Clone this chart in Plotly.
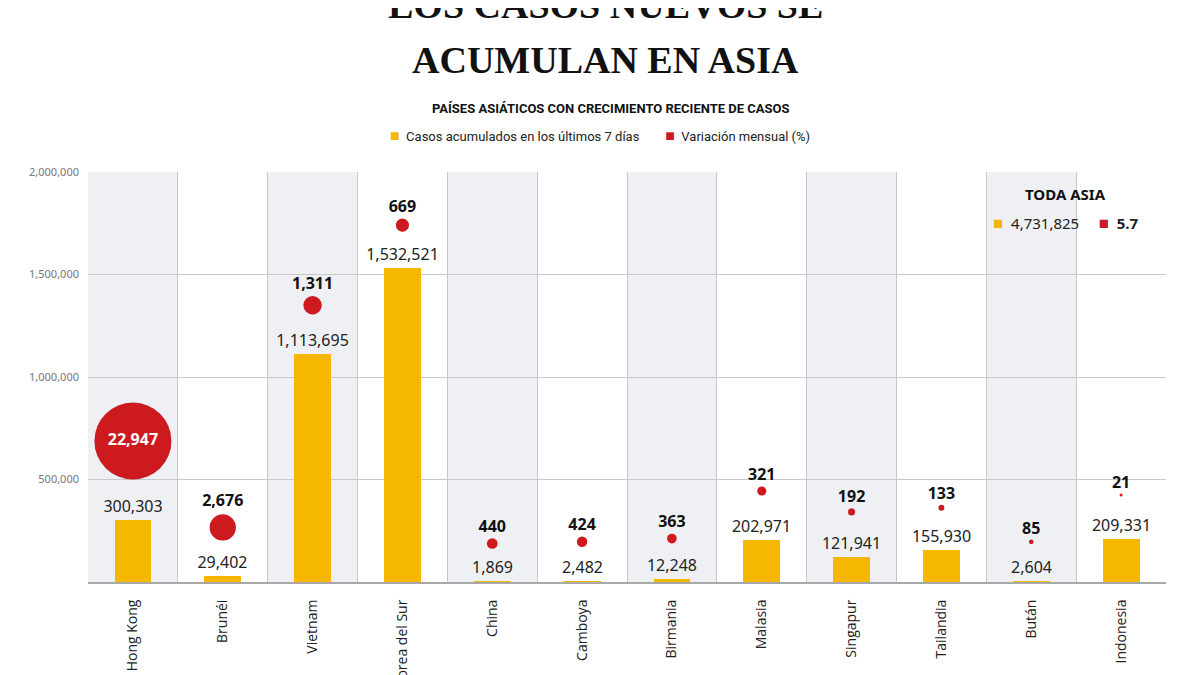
import plotly.graph_objects as go

# data
countries = ['Hong Kong', 'Brunéi', 'Vietnam', 'Corea del Sur', 'China', 'Camboya',
             'Birmania', 'Malasia', 'Singapur', 'Tailandia', 'Bután', 'Indonesia']
cases_7d = [300303, 29402, 1113695, 1532521, 1869, 2482, 12248, 202971, 121941,
            155930, 2604, 209331]
monthly_var = [22947, 2676, 1311, 669, 440, 424, 363, 321, 192, 133, 85, 21]
# vertical placement of the red bubbles (read on the y axis)
bubble_level = [688000, 266000, 1350000, 1741000, 188000, 196000, 212000, 444000,
                342000, 362000, 196000, 424000]
y_ticks = [500000, 1000000, 1500000, 2000000]
total_cases = 4731825
total_var = 5.7

YELLOW = '#F5B700'
RED = '#CC1A1F'
COL_BG = '#EEF0F3'
GRID = '#C5C8CD'
SANS = 'Noto Sans, Open Sans, sans-serif'
NARROW = 'Liberation Sans Narrow, Roboto, sans-serif'
SERIF = 'Liberation Serif, DejaVu Serif, serif'

fig = go.Figure()

fig.add_trace(go.Bar(
    x=countries,
    y=cases_7d,
    width=0.41,
    marker=dict(color=YELLOW, line=dict(width=0)),
    text=[f'{v:,}' for v in cases_7d],
    textposition='outside',
    textangle=0,
    constraintext='none',
    cliponaxis=False,
    textfont=dict(family=SANS, size=16, color='#222'),
    showlegend=False,
))

max_d = 77
fig.add_trace(go.Scatter(
    x=countries,
    y=bubble_level,
    mode='markers+text',
    marker=dict(color=RED, opacity=1, size=monthly_var, sizemode='area',
                sizeref=2 * max(monthly_var) / max_d ** 2, sizemin=1.5,
                line=dict(width=0)),
    text=[f'<b>{v:,}</b>' for v in monthly_var],
    textposition=['middle center'] + ['top center'] * (len(countries) - 1),
    textfont=dict(family=SANS, size=16,
                  color=['white'] + ['#111'] * (len(countries) - 1)),
    cliponaxis=False,
    showlegend=False,
))

# alternating column shading
shapes = []
for i in range(len(countries)):
    if i % 2 == 0:
        shapes.append(dict(type='rect', xref='x', yref='paper', x0=i - 0.5, x1=i + 0.5,
                           y0=0, y1=1, fillcolor=COL_BG, line=dict(width=0),
                           layer='below'))


def note(text, x, y, font):
    return dict(text=text, x=x, y=y, xref='paper', yref='paper', showarrow=False,
                xanchor='center', yanchor='middle', font=font)


def swatch(color, size):
    return f'<span style="color:{color};font-size:{size}px">■</span>'


annotations = [
    note('LOS CASOS NUEVOS SE', 0.480, 1.407,
         dict(family=SERIF, size=38, color='#111', weight='bold')),
    note('ACUMULAN EN ASIA', 0.480, 1.273,
         dict(family=SERIF, size=38, color='#111', weight='bold')),
    note('<b>PAÍSES ASIÁTICOS CON CRECIMIENTO RECIENTE DE CASOS</b>', 0.485, 1.156,
         dict(family=NARROW, size=13, color='#111')),
    note(f'{swatch(YELLOW, 16)}  Casos acumulados en los últimos 7 días'
         f'        {swatch(RED, 16)}  Variación mensual (%)',
         0.475, 1.088, dict(family=NARROW, size=13, color='#222')),
    note('<b>TODA ASIA</b>', 0.907, 0.946, dict(family=SANS, size=15, color='#111')),
    note(f'{swatch(YELLOW, 17)}  {total_cases:,}     {swatch(RED, 17)}  <b>{total_var}</b>',
         0.907, 0.876, dict(family=SANS, size=15, color='#222')),
]

# the page body adds an 8px offset, margins compensate for it
fig.update_layout(
    width=1200, height=675,
    margin=dict(l=80, r=42, t=164, b=101),
    paper_bgcolor='white',
    plot_bgcolor='white',
    shapes=shapes,
    annotations=annotations,
    bargap=0,
)

fig.update_xaxes(
    type='category',
    range=[-0.5, len(countries) - 0.5],
    automargin=False,
    showgrid=True, gridcolor=GRID, gridwidth=1,
    tickson='boundaries', ticks='',
    tickangle=-90,
    ticklabelstandoff=10,
    tickfont=dict(family='Open Sans, sans-serif', size=14, color='#222'),
    showline=True, linecolor='#A8A8A8', linewidth=2,
)
fig.update_yaxes(
    range=[0, 2000000],
    automargin=False,
    tickvals=y_ticks,
    tickformat=',d',
    showgrid=True, gridcolor=GRID, gridwidth=1,
    zeroline=False,
    ticks='', ticklabelstandoff=8,
    tickfont=dict(family=SANS, size=11, color='#777'),
)

fig.write_html('out.html')
